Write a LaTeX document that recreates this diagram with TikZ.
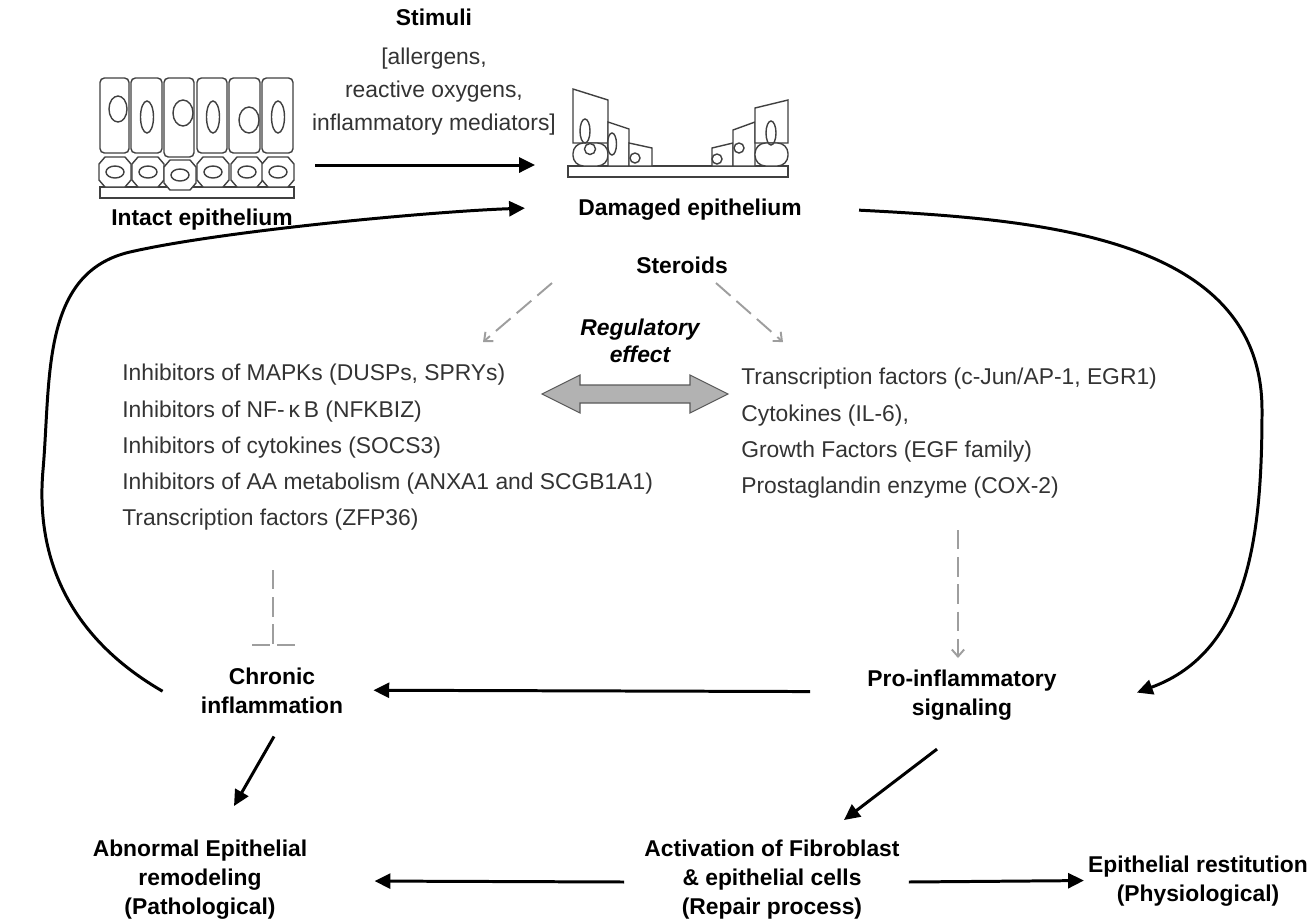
\documentclass[tikz,border=0pt]{standalone}
\usepackage{fontspec}
\setmainfont{Liberation Sans}
\usetikzlibrary{arrows.meta}

\begin{document}
\begin{tikzpicture}[x=0.02cm, y=-0.02cm,
  lbl/.style={font=\bfseries\fontsize{13}{16.5}\selectfont, align=center, inner sep=0pt},
  genes/.style={font=\fontsize{13}{20.6}\selectfont, text=black!80, align=left, inner sep=0pt},
  blackarrow/.style={line width=1.7pt, -{Triangle[length=9pt,width=8.5pt]}},
  grayarrow/.style={draw=black!38, line width=1.1pt, dash pattern=on 11pt off 4.5pt, -{Straight Barb[length=4pt,width=7pt]}},
  cellwall/.style={draw=black!75, line width=0.8pt, fill=white},
  nucleus/.style={draw=black!75, line width=0.8pt}]

\useasboundingbox (0,0) rectangle (1311,921);

%intact epithelium
\draw[cellwall] (100,187) rectangle (294,198);
\foreach \l/\r/\b in {100/129/153, 131/162/153, 164/194/157, 197/227/153, 229/260/153, 262/293/153}
  \draw[cellwall, rounded corners=2.5pt] (\l,78) rectangle (\r,\b);
\foreach \x/\y/\a/\b in {118/109/9/13, 147/117/6.5/16, 183/113/10/13, 213/117/6.5/16, 249/120/10/13, 278/117/6.5/16}
  \draw[nucleus] (\x,\y) ellipse [x radius=\a, y radius=\b];
\foreach \x/\y in {115/172, 148/172, 180/175, 213/172, 247/172, 278/172}{
  \draw[cellwall] (\x-16,\y-8) -- (\x-10,\y-15) -- (\x+10,\y-15) -- (\x+16,\y-8)
    -- (\x+16,\y+8) -- (\x+10,\y+15) -- (\x-10,\y+15) -- (\x-16,\y+8) -- cycle;
  \draw[nucleus] (\x,\y) ellipse [x radius=9, y radius=6];
}

%damaged epithelium
\draw[cellwall] (568,166) rectangle (788,177);
% left edge of the wound
\draw[cellwall] (573,89) -- (608,100) -- (608,143) -- (573,143) -- cycle;
\draw[cellwall, rounded corners=6pt] (573,143) rectangle (608,166);
\draw[nucleus] (585,131) ellipse [x radius=5, y radius=12];
\draw[nucleus] (590,149) circle [radius=5.5];
\draw[cellwall] (608,122) -- (629,129) -- (629,166) -- (608,166) -- cycle;
\draw[nucleus] (612,144) ellipse [x radius=4.5, y radius=11];
\draw[cellwall] (629,143) -- (652,148) -- (652,166) -- (629,166) -- cycle;
\draw[nucleus] (635,158) circle [radius=5];
% right edge of the wound
\draw[cellwall] (712,148) -- (733,143) -- (733,166) -- (712,166) -- cycle;
\draw[nucleus] (717,159) circle [radius=5];
\draw[cellwall] (733,130) -- (755,122) -- (755,166) -- (733,166) -- cycle;
\draw[nucleus] (739,148) circle [radius=5];
\draw[cellwall] (755,108) -- (788,100) -- (788,143) -- (755,143) -- cycle;
\draw[cellwall, rounded corners=6pt] (755,143) rectangle (788,166);
\draw[nucleus] (771,133) ellipse [x radius=5, y radius=12];

%labels
\node[lbl, anchor=north, font=\fontsize{13}{18.8}\selectfont, text=black!80] (stimuli) at (434,9)
  {\textbf{\color{black}Stimuli}\\[3pt] {[}allergens,\\ reactive oxygens,\\ inflammatory mediators{]}};
\node[lbl, anchor=base] (intact) at (202,225) {Intact epithelium};
\node[lbl, anchor=base] (damaged) at (690,215) {Damaged epithelium};
\node[lbl, anchor=base] (steroids) at (682,273) {Steroids};
\node[lbl, anchor=north, font=\bfseries\itshape\fontsize{13}{15.4}\selectfont] (regul) at (640,319) {Regulatory\\effect};

%gene lists
\node[genes, anchor=north west] (inhibitors) at (122,364)
  {Inhibitors of MAPKs (DUSPs, SPRYs)\\
   Inhibitors of NF-\,κ\,B (NFKBIZ)\\
   Inhibitors of cytokines (SOCS3)\\
   Inhibitors of AA metabolism (ANXA1 and SCGB1A1)\\
   Transcription factors (ZFP36)};
\node[genes, anchor=north west] (activators) at (741,368)
  {Transcription factors (c-Jun/AP-1, EGR1)\\
   Cytokines (IL-6),\\
   Growth Factors (EGF family)\\
   Prostaglandin enzyme (COX-2)};

%outcomes
\node[lbl, anchor=north] (chronic) at (272,668) {Chronic\\inflammation};
\node[lbl, anchor=north] (pro) at (962,670) {Pro-inflammatory\\signaling};
\node[lbl, anchor=north] (abnormal) at (200,840) {Abnormal Epithelial\\remodeling\\(Pathological)};
\node[lbl, anchor=north] (activation) at (772,840) {Activation of Fibroblast\\\& epithelial cells\\(Repair process)};
\node[lbl, anchor=north] (restitution) at (1198,856) {Epithelial restitution\\(Physiological)};

%regulatory effect
\draw[draw=black!65, fill=black!30, line width=0.6pt] (542,394) -- (580,375) -- (580,385) -- (690,385)
  -- (690,375) -- (728,394) -- (690,413) -- (690,403) -- (580,403) -- (580,413) -- cycle;

%stimuli arrow
\coordinate (intactR) at (315,165);
\coordinate (damagedL) at (535,165);
\draw[blackarrow] (intactR) -- (damagedL);

%steroids
\draw[grayarrow] ([shift={(-130,10)}]steroids.base) -- ++(-69,59);
\draw[grayarrow] ([shift={(34,10)}]steroids.base) -- ++(67,59);

%inhibition bar
\draw[grayarrow, -] ([shift={(1,-98)}]chronic.north) -- ([shift={(1,-23)}]chronic.north);
\draw[grayarrow, -, dash pattern=on 10pt off 4.5pt] ([shift={(-20,-23)}]chronic.north) -- ([shift={(23,-23)}]chronic.north);

%to pro-inflammatory
\draw[grayarrow] ([shift={(-4,-140)}]pro.north) -- ([shift={(-4,-12)}]pro.north);

%main arrows
\draw[blackarrow] ([shift={(-57,-4)}]pro.west) -- ([shift={(30,-1)}]chronic.east);
\draw[blackarrow] ([shift={(2,22)}]chronic.south) -- ([shift={(34,-34)}]abnormal.north);
\draw[blackarrow] ([shift={(-25,28)}]pro.south) -- ([shift={(72,-20)}]activation.north);
\draw[blackarrow] ([shift={(-20,2)}]activation.west) -- ([shift={(67,1)}]abnormal.east);
\draw[blackarrow] ([shift={(9,2)}]activation.east) -- ([shift={(-4,-1)}]restitution.west);

%feedback loops
\coordinate (bendL1) at (43,470);
\coordinate (bendL2) at (130,252);
\draw[blackarrow] ([shift={(-38,0)}]chronic.west) to[out=150,in=-95] (bendL1)
  to[out=85,in=193] (bendL2) to[out=13,in=182,looseness=0.6] ([shift={(-53,-1)}]damaged.west);
\coordinate (bendR) at (1262,410);
\draw[blackarrow] ([shift={(57,1)}]damaged.east) to[out=-3,in=90] (bendR)
  to[out=-90,in=20] ([shift={(80,-3)}]pro.east);
\end{tikzpicture}
\end{document}
